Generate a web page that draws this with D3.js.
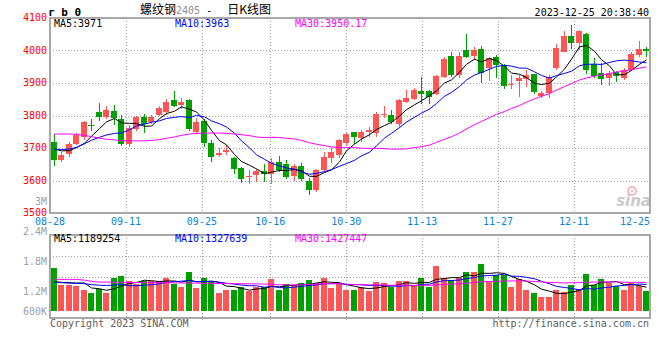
<!doctype html>
<html lang="en">
<head>
<meta charset="utf-8">
<title>螺纹钢2405 - 日K线图</title>
<script src="https://cdn.jsdelivr.net/npm/d3@7"></script>
<style>
  body { margin: 0; background: #fff; }
  svg { display: block; }
  text { font-family: "DejaVu Sans Mono", monospace; font-size: 10px; }
  .grid { stroke: #a0a0a0; stroke-dasharray: 1,2; shape-rendering: crispEdges; }
  .frame { fill: none; stroke: #a8a8a8; stroke-width: 2; shape-rendering: crispEdges; }
  .ma { fill: none; stroke-width: 1; }
</style>
</head>
<body>
<svg id="chart" width="660" height="360"></svg>
<script>
// trading days shown (08-28 .. 12-25)
var days = ['08-28','08-29','08-30','08-31','09-01','09-04','09-05','09-06','09-07','09-08',
  '09-11','09-12','09-13','09-14','09-15','09-18','09-19','09-20','09-21','09-22',
  '09-25','09-26','09-27','09-28','10-09','10-10','10-11','10-12','10-13','10-16',
  '10-17','10-18','10-19','10-20','10-23','10-24','10-25','10-26','10-27','10-30',
  '10-31','11-01','11-02','11-03','11-06','11-07','11-08','11-09','11-10','11-13',
  '11-14','11-15','11-16','11-17','11-20','11-21','11-22','11-23','11-24','11-27',
  '11-28','11-29','11-30','12-01','12-04','12-05','12-06','12-07','12-08','12-11',
  '12-12','12-13','12-14','12-15','12-18','12-19','12-20','12-21','12-22','12-25'];

var open = [3717,3664,3681,3712,3733,3772,3810,3795,3814,3790,
  3712,3758,3794,3779,3801,3810,3848,3831,3849,3750,
  3784,3714,3679,3689,3670,3638,3612,3617,3630,3621,
  3658,3651,3614,3645,3600,3572,3632,3669,3678,3716,
  3748,3732,3750,3745,3801,3801,3774,3843,3851,3875,
  3875,3865,3919,3984,3926,4001,3984,4004,3945,3981,
  3955,3894,3906,3912,3929,3861,3870,3945,3996,4044,
  4024,4050,3960,3931,3914,3934,3914,3940,3986,4004];

var high = [3743,3689,3717,3745,3782,3790,3840,3829,3831,3802,
  3770,3800,3804,3802,3830,3850,3875,3855,3852,3792,
  3790,3726,3699,3710,3672,3643,3632,3636,3650,3669,
  3674,3664,3652,3655,3607,3636,3689,3700,3727,3745,
  3750,3756,3766,3812,3830,3817,3851,3878,3885,3919,
  3878,3924,3981,3996,3996,4052,4011,4013,3981,3986,
  3960,3924,3924,3940,3929,3875,3924,4021,4059,4078,
  4062,4054,3978,3963,3937,3937,3945,3994,4029,4011];

var low = [3645,3658,3671,3708,3725,3752,3782,3788,3772,3706,
  3704,3752,3745,3773,3797,3802,3826,3820,3752,3744,
  3702,3658,3671,3680,3619,3592,3588,3595,3594,3589,
  3626,3604,3597,3599,3555,3566,3626,3655,3670,3705,
  3712,3720,3735,3735,3791,3774,3766,3838,3848,3834,
  3834,3863,3914,3919,3914,3978,3971,3900,3905,3914,
  3883,3883,3858,3889,3865,3855,3853,3940,3994,4006,
  4003,3927,3914,3894,3890,3904,3909,3937,3981,3981];

var close = [3663,3679,3713,3740,3779,3770,3796,3817,3792,3712,
  3762,3795,3773,3796,3824,3842,3830,3841,3760,3781,
  3715,3673,3684,3695,3635,3606,3615,3628,3621,3658,
  3633,3612,3646,3604,3570,3631,3672,3687,3725,3742,
  3733,3750,3755,3804,3804,3781,3848,3853,3878,3867,
  3858,3922,3975,3926,3984,3981,4001,3932,3977,3955,
  3892,3897,3914,3924,3871,3870,3919,4009,4044,4024,
  4060,3940,3921,3912,3932,3922,3940,3988,4006,4000];

var volume = [2160e3,1310e3,1310e3,1260e3,1050e3,880e3,1100e3,920e3,1650e3,1770e3,
  1510e3,1340e3,1510e3,1530e3,1530e3,1680e3,1340e3,1220e3,1990e3,1170e3,
  1650e3,1480e3,920e3,1050e3,1050e3,1220e3,1000e3,1220e3,1190e3,1620e3,
  1050e3,1340e3,1310e3,1430e3,1570e3,1430e3,1650e3,1170e3,1340e3,1050e3,
  1050e3,1220e3,1000e3,1480e3,1430e3,1220e3,1510e3,1510e3,1310e3,1680e3,
  1220e3,2300e3,1680e3,1570e3,1650e3,1990e3,1990e3,2380e3,1510e3,1820e3,
  1820e3,1220e3,1600e3,1050e3,920e3,710e3,710e3,1050e3,970e3,1310e3,
  1110e3,1870e3,1310e3,1620e3,1400e3,1260e3,1050e3,1400e3,1280e3,1020e3];

// moving-average values before a full window exists
var ma5Head = [3697, 3691, 3692, 3701];
var ma10Head = [3696, 3695, 3697, 3702, 3713, 3724, 3733, 3740, 3745];
var ma30Head = [3743,3743,3743,3742,3739,3735,3730,3727,3725,3722,3722,3722,3722,3723,3726,
  3730,3734,3739,3743,3745,3746,3746,3746,3745,3743,3741,3738,3734,3732];
var vma5Head = [1480e3, 1450e3, 1430e3, 1410e3];
var vma10Head = [1450e3,1430e3,1410e3,1400e3,1380e3,1330e3,1300e3,1290e3,1310e3];
var vma30Head = [1600e3,1600e3,1600e3,1600e3,1560e3,1500e3,1460e3,1460e3,1450e3,1450e3,
  1440e3,1440e3,1430e3,1430e3,1430e3,1430e3,1420e3,1420e3,1410e3,1410e3,
  1400e3,1400e3,1390e3,1390e3,1380e3,1380e3,1370e3,1370e3,1360e3];

var tickDays = ['08-28','09-11','09-25','10-16','10-30','11-13','11-27','12-11','12-25'];
var priceTicks = [3500, 3600, 3700, 3800, 3900, 4000, 4100];
var volTicks = [3e6, 2.4e6, 1.8e6, 1.2e6, 0.6e6];
var volTickLabels = ['3M', '2.4M', '1.8M', '1.2M', '600K'];

var priceLegend = ['MA5:3971', 'MA10:3963', 'MA30:3950.17'];
var volLegend = ['MA5:1189254', 'MA10:1327639', 'MA30:1427447'];
var maColors = ['#000000', '#0000ff', '#ff00ff'];

var UP = '#ff5555', DOWN = '#00a000';

var left = 50, right = 650,
    mainTop = 18, mainBottom = 213,
    volTop = 235, volBottom = 318;

var svg = d3.select('#chart');

var x = d3.scaleBand().domain(days).range([left, right]).paddingInner(0.2).paddingOuter(0.1);
var xGrid = d3.scalePoint().domain(days).range([left, right]);
var y = d3.scaleLinear().domain([3500, 4100]).range([mainBottom, mainTop]);
var yVol = d3.scaleLinear().domain([0, 2.4e6]).range([310.7, 263.7]);
var yVolLabel = d3.scaleLinear().domain([0.6e6, 3e6]).range([321.7, 201.7]);

function bx(d) { return Math.round(x(d)); }
function mid(d) { return bx(d) + 3.5; }

function movingAvg(values, n, head) {
  return values.map(function(v, i) {
    return i < n - 1 ? head[i] : d3.mean(values.slice(i - n + 1, i + 1));
  });
}

var priceMA = [movingAvg(close, 5, ma5Head), movingAvg(close, 10, ma10Head), movingAvg(close, 30, ma30Head)];
var volMA = [movingAvg(volume, 5, vma5Head), movingAvg(volume, 10, vma10Head), movingAvg(volume, 30, vma30Head)];

// grids
svg.append('g').selectAll('line')
  .data(priceTicks.slice(1, -1))
  .enter().append('line')
    .attr('class', 'grid')
    .attr('x1', left).attr('x2', right)
    .attr('y1', function(d) { return Math.round(y(d)) + 0.5; })
    .attr('y2', function(d) { return Math.round(y(d)) + 0.5; });

svg.append('g').selectAll('line')
  .data(d3.range(1, 4))
  .enter().append('line')
    .attr('class', 'grid')
    .attr('x1', left).attr('x2', right)
    .attr('y1', function(i) { return Math.round(volTop + (volBottom - volTop) * i / 4) + 0.5; })
    .attr('y2', function(i) { return Math.round(volTop + (volBottom - volTop) * i / 4) + 0.5; });

var vgrid = svg.append('g').selectAll('g')
  .data(tickDays.slice(1, -1))
  .enter().append('g');
vgrid.append('line')
  .attr('class', 'grid')
  .attr('x1', function(d) { return Math.round(xGrid(d)) + 0.5; })
  .attr('x2', function(d) { return Math.round(xGrid(d)) + 0.5; })
  .attr('y1', mainTop).attr('y2', mainBottom);
vgrid.append('line')
  .attr('class', 'grid')
  .attr('x1', function(d) { return Math.round(xGrid(d)) + 0.5; })
  .attr('x2', function(d) { return Math.round(xGrid(d)) + 0.5; })
  .attr('y1', volTop).attr('y2', volBottom + 3);

// sina watermark
var wm = svg.append('g').attr('opacity', 0.55);
wm.append('circle').attr('cx', 632).attr('cy', 191).attr('r', 4)
  .attr('fill', 'none').attr('stroke', '#f08080').attr('stroke-width', 2);
wm.append('circle').attr('cx', 632).attr('cy', 191).attr('r', 1.2).attr('fill', '#f08080');
wm.append('text').attr('x', 651).attr('y', 206).attr('text-anchor', 'end')
  .style('font-family', '"DejaVu Sans", sans-serif').style('font-size', '15px')
  .style('font-weight', 'bold').style('font-style', 'italic')
  .attr('fill', '#a0a0a0').text('sina');

// candles
var candle = svg.append('g').attr('shape-rendering', 'crispEdges')
  .selectAll('g').data(days).enter().append('g')
    .attr('fill', function(d, i) { return close[i] >= open[i] ? UP : DOWN; });
candle.append('rect')
  .attr('x', function(d) { return bx(d) + 3; })
  .attr('y', function(d, i) { return y(high[i]); })
  .attr('width', 1)
  .attr('height', function(d, i) { return y(low[i]) - y(high[i]); });
candle.append('rect')
  .attr('x', bx)
  .attr('y', function(d, i) { return y(Math.max(open[i], close[i])); })
  .attr('width', 6)
  .attr('height', function(d, i) { return Math.max(1, Math.abs(y(open[i]) - y(close[i]))); });

// volume bars
svg.append('g').attr('shape-rendering', 'crispEdges')
  .selectAll('rect').data(days).enter().append('rect')
    .attr('x', bx)
    .attr('y', function(d, i) { return yVol(volume[i]); })
    .attr('width', 6)
    .attr('height', function(d, i) { return yVol(0) - yVol(volume[i]); })
    .attr('fill', function(d, i) { return close[i] >= open[i] ? UP : DOWN; });

// moving-average lines
var priceLine = d3.line().x(function(d, i) { return mid(days[i]); }).y(function(d) { return y(d); });
var volLine = d3.line().x(function(d, i) { return mid(days[i]); }).y(function(d) { return yVol(d); });

svg.append('g').selectAll('path').data(priceMA).enter().append('path')
  .attr('class', 'ma')
  .attr('stroke', function(d, i) { return maColors[i]; })
  .attr('d', priceLine);
svg.append('g').selectAll('path').data(volMA).enter().append('path')
  .attr('class', 'ma')
  .attr('stroke', function(d, i) { return maColors[i]; })
  .attr('d', volLine);

// frames
svg.append('rect').attr('class', 'frame')
  .attr('x', left).attr('y', mainTop).attr('width', right - left).attr('height', mainBottom - mainTop);
svg.append('rect').attr('class', 'frame')
  .attr('x', left).attr('y', volTop).attr('width', right - left).attr('height', volBottom - volTop);

// axis labels
svg.append('g').selectAll('text').data(priceTicks).enter().append('text')
  .attr('x', 47).attr('y', function(d) { return y(d) + 3; })
  .attr('text-anchor', 'end').attr('fill', '#ff0000')
  .text(function(d) { return d; });

svg.append('g').selectAll('text').data(volTicks).enter().append('text')
  .attr('x', 47).attr('y', function(d) { return Math.min(yVolLabel(d), 311) + 3.5; })
  .attr('text-anchor', 'end').attr('fill', '#a0a0a0')
  .text(function(d, i) { return volTickLabels[i]; });

svg.append('g').selectAll('text').data(tickDays).enter().append('text')
  .attr('x', function(d) { return xGrid(d); })
  .attr('y', 225)
  .attr('text-anchor', function(d, i) { return i === tickDays.length - 1 ? 'end' : 'middle'; })
  .attr('fill', '#0a84d8')
  .text(function(d) { return d; });

// legends
var legendX = [54, 175, 295];
svg.append('g').selectAll('text').data(priceLegend).enter().append('text')
  .attr('x', function(d, i) { return legendX[i]; }).attr('y', 27)
  .attr('fill', function(d, i) { return maColors[i]; })
  .text(function(d) { return d; });
svg.append('g').selectAll('text').data(volLegend).enter().append('text')
  .attr('x', function(d, i) { return legendX[i]; }).attr('y', 242)
  .attr('fill', function(d, i) { return maColors[i]; })
  .text(function(d) { return d; });

// header
svg.append('text').attr('x', 48).attr('y', 16)
  .style('font-size', '11px').style('font-weight', 'bold')
  .text('r b 0');

var title = svg.append('text').attr('x', 140).attr('y', 14);
title.append('tspan').style('font-family', '"Noto Sans CJK SC", sans-serif').style('font-size', '12px').text('螺纹钢');
title.append('tspan').attr('fill', '#909090').text('2405');
title.append('tspan').text(' - ');
title.append('tspan').attr('dx', 9).style('font-family', '"Noto Sans CJK SC", sans-serif').style('font-size', '12px').text('日K线图');

svg.append('text').attr('x', 649).attr('y', 16).attr('text-anchor', 'end').text('2023-12-25 20:38:40');

// footer
svg.append('text').attr('x', 50).attr('y', 327).attr('fill', '#606060').text('Copyright 2023 SINA.COM');
svg.append('text').attr('x', 649).attr('y', 327).attr('text-anchor', 'end').attr('fill', '#606060').text('http://finance.sina.com.cn');
</script>
</body>
</html>
